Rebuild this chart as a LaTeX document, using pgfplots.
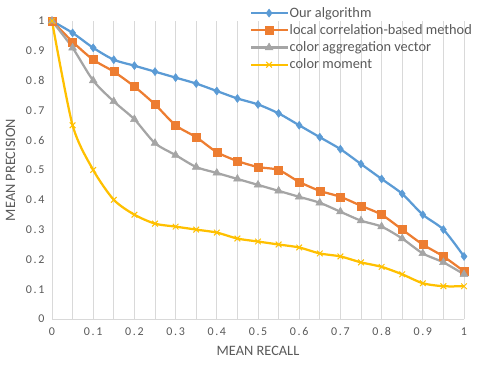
\documentclass[border=0pt]{standalone}
\usepackage{pgfplots}
\pgfplotsset{compat=1.18}
\usepackage{fontspec}
\setmainfont{Carlito}
\newfontfamily\tickfont[LetterSpace=14]{Carlito}
\definecolor{cblue}{HTML}{5B9BD5}
\definecolor{corange}{HTML}{ED7D31}
\definecolor{cgray}{HTML}{A5A5A5}
\definecolor{cyellow}{HTML}{FFC000}
\definecolor{ctext}{HTML}{595959}
\definecolor{cgrid}{HTML}{D9D9D9}
\begin{document}
\begin{tikzpicture}[x=1bp,y=1bp]
\useasboundingbox (0,0) rectangle (480,366);
\begin{axis}[
  at={(52bp,47bp)}, anchor=south west,
  scale only axis, width=412bp, height=298bp,
  xmin=0, xmax=1, ymin=0, ymax=1,
  xtick={0,0.1,...,1.01}, ytick={0,0.1,...,1.01},
  minor xtick={0.05,0.15,...,0.96},
  xmajorgrids, xminorgrids,
  grid style={cgrid, line width=0.75bp},
  minor grid style={cgrid, line width=0.75bp},
  major tick length=0pt, minor tick length=0pt,
  axis x line*=bottom, axis y line*=left,
  x axis line style={cgrid, line width=0.75bp, -},
  y axis line style={draw=none},
  ticklabel style={font=\tickfont\fontsize{12}{14}\selectfont, text=ctext},
  /pgf/number format/assume math mode=true,
  xticklabel style={yshift=-5bp},
  yticklabel style={xshift=-4bp},
  xticklabels={0,0.1,0.2,0.3,0.4,0.5,0.6,0.7,0.8,0.9,1},
  yticklabels={0,0.1,0.2,0.3,0.4,0.5,0.6,0.7,0.8,0.9,1},
  xlabel={MEAN RECALL}, ylabel={MEAN PRECISION},
  label style={font=\fontsize{14.4}{16}\selectfont, text=ctext},
  xlabel style={yshift=-4bp},
  ylabel style={yshift=4bp},
  clip=false,
  legend style={draw=none, fill=none, at={(0.48,1.056)}, anchor=north west,
    font=\fontsize{14.4}{16}\selectfont, text=ctext, row sep=0bp,
    legend cell align=left, inner sep=0pt,
    nodes={font=\fontsize{14.4}{16}\selectfont, inner sep=1.5bp, text depth=3.2bp, text height=11bp}},
  legend image code/.code={\draw[mark repeat=2,mark phase=2] plot coordinates {(0bp,0bp) (18bp,0bp) (36bp,0bp)};},
  every axis plot/.append style={line width=2.25bp, smooth, tension=0.45},
]
\addplot[cblue, mark=diamond*, mark size=4bp, mark options={solid, line width=0.5bp}] coordinates {
(0,1) (0.05,0.96) (0.1,0.91) (0.15,0.87) (0.2,0.85) (0.25,0.83) (0.3,0.81) (0.35,0.79) (0.4,0.765) (0.45,0.74) (0.5,0.72) (0.55,0.69) (0.6,0.65) (0.65,0.61) (0.7,0.57) (0.75,0.52) (0.8,0.47) (0.85,0.42) (0.9,0.35) (0.95,0.30) (1,0.21)};
\addlegendentry{Our algorithm}
\addplot[corange, mark=square*, mark size=4bp, mark options={solid, line width=0.5bp}] coordinates {
(0,1) (0.05,0.93) (0.1,0.87) (0.15,0.83) (0.2,0.78) (0.25,0.72) (0.3,0.65) (0.35,0.61) (0.4,0.56) (0.45,0.53) (0.5,0.51) (0.55,0.50) (0.6,0.46) (0.65,0.43) (0.7,0.41) (0.75,0.38) (0.8,0.35) (0.85,0.30) (0.9,0.25) (0.95,0.21) (1,0.16)};
\addlegendentry{local correlation-based method}
\addplot[cgray, mark=triangle*, mark size=4.5bp, mark options={solid, line width=0.5bp}] coordinates {
(0,1) (0.05,0.91) (0.1,0.80) (0.15,0.73) (0.2,0.67) (0.25,0.59) (0.3,0.55) (0.35,0.51) (0.4,0.49) (0.45,0.47) (0.5,0.45) (0.55,0.43) (0.6,0.41) (0.65,0.39) (0.7,0.36) (0.75,0.33) (0.8,0.31) (0.85,0.27) (0.9,0.22) (0.95,0.19) (1,0.15)};
\addlegendentry{color aggregation vector}
\addplot[cyellow, mark=x, mark size=4bp, mark options={solid, line width=1bp}] coordinates {
(0,1) (0.05,0.65) (0.1,0.50) (0.15,0.40) (0.2,0.35) (0.25,0.32) (0.3,0.31) (0.35,0.30) (0.4,0.29) (0.45,0.27) (0.5,0.26) (0.55,0.25) (0.6,0.24) (0.65,0.22) (0.7,0.21) (0.75,0.19) (0.8,0.175) (0.85,0.15) (0.9,0.12) (0.95,0.11) (1,0.11)};
\addlegendentry{color moment}
\end{axis}
\end{tikzpicture}
\end{document}
